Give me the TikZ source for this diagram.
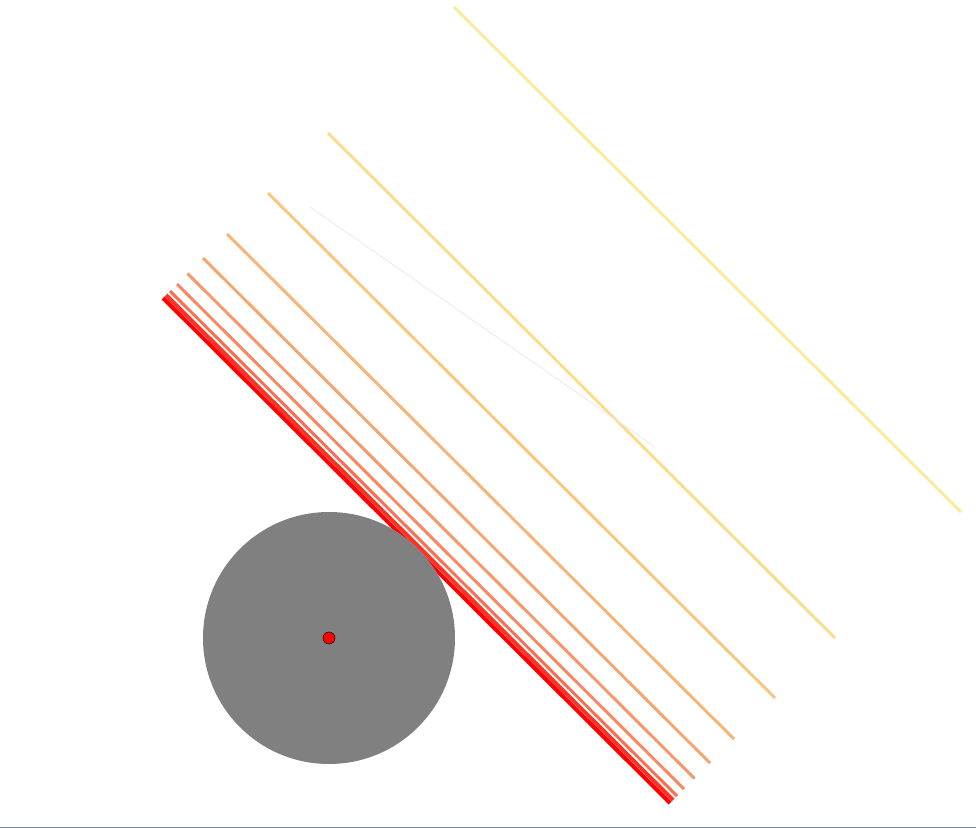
\documentclass[tikz,border=0pt]{standalone}
\definecolor{ray0}{RGB}{255,0,0}
\definecolor{ray1}{RGB}{254,50,36}
\definecolor{ray2}{RGB}{250,110,80}
\definecolor{ray3}{RGB}{246,136,98}
\definecolor{ray4}{RGB}{245,152,106}
\definecolor{ray5}{RGB}{245,166,112}
\definecolor{ray6}{RGB}{246,180,118}
\definecolor{ray7}{RGB}{247,200,128}
\definecolor{ray8}{RGB}{249,221,142}
\definecolor{ray9}{RGB}{251,234,158}
\definecolor{frame}{RGB}{112,140,162}
\begin{document}
\begin{tikzpicture}[x=0.75pt,y=-0.75pt,
    ray/.style={line width=2.2pt},
    core/.style={line width=3pt}]
    \useasboundingbox (0,0) rectangle (976,828);
    % Wave fronts
    \foreach \d/\c in {582/ray9,330/ray8,210/ray7,128/ray6,80/ray5,49/ray4,28/ray3,14/ray2}
        \draw[ray,\c] ({163+\d/2},{298-\d/2}) -- ({670+\d/2},{803-\d/2});
    \foreach \d/\c in {6/ray1,0/ray0}
        \draw[core,\c] ({163+\d/2},{298-\d/2}) -- ({670+\d/2},{803-\d/2});
    % Faint trace
    \draw[line width=0.6pt,black!9] (310,207) -- (655,447);
    % Obstacle
    \coordinate (ctr) at (329,638);
    \fill[gray] (ctr) circle (94.5pt);
    \filldraw[fill=red,draw=black!80!red,line width=0.5pt] (ctr) circle (4.5pt);
    \draw[frame,line width=0.9pt] (0,827.5) -- (976,827.5);
\end{tikzpicture}
\end{document}
